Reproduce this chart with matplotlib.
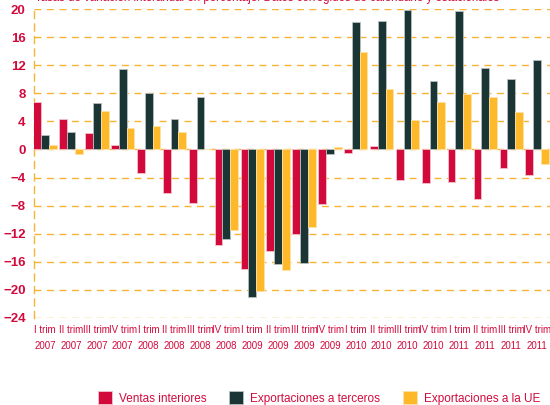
import numpy as np
import matplotlib.pyplot as plt

trimestres = ['I trim', 'II trim', 'III trim', 'IV trim']
anios = ['2007', '2008', '2009', '2010', '2011']
etiquetas = [t + '\n' + a for a in anios for t in trimestres]

ventas_interiores = [6.8, 4.4, 2.3, 0.6, -3.4, -6.2, -7.6, -13.6, -17.0, -14.5,
                     -12.1, -7.8, -0.5, 0.5, -4.4, -4.8, -4.7, -7.0, -2.7, -3.7]
export_terceros = [2.0, 2.5, 6.6, 11.5, 8.1, 4.4, 7.4, -12.8, -21.0, -16.3,
                   -16.2, -0.7, 18.2, 18.3, 19.8, 9.7, 19.7, 11.6, 10.0, 12.8]
export_ue = [0.7, -0.7, 5.5, 3.0, 3.3, 2.5, 0.0, -11.4, -20.2, -17.1,
             -11.0, 0.4, 13.9, 8.6, 4.2, 6.8, 7.9, 7.5, 5.3, -2.0]

rojo = '#D20A3C'
verde = '#1B3535'
amarillo = '#FDB92A'
fuente = ['Liberation Sans', 'DejaVu Sans']

fig = plt.figure(figsize=(5.5, 4.05), dpi=100)
ax = fig.add_axes([34/550, 1 - 318/405, 1 - 34/550, 309/405])

x = np.arange(len(etiquetas))
w = 0.3
ax.bar(x - w, ventas_interiores, w, color=rojo, edgecolor='#f2c2cc', linewidth=0.6, zorder=3)
ax.bar(x, export_terceros, w, color=verde, edgecolor='#b5c0c0', linewidth=0.6, zorder=3)
ax.bar(x + w, export_ue, w, color=amarillo, edgecolor='#fde2a8', linewidth=0.6, zorder=3)

ax.set_xlim(-0.43, 19.5)
ax.set_ylim(-24, 20)
ax.set_yticks(np.arange(-24, 21, 4))
ax.grid(axis='y', color='#F5B533', linestyle=(0, (5, 4)), linewidth=1, zorder=0)
for s in ['top', 'right', 'bottom']:
    ax.spines[s].set_visible(False)
ax.spines['left'].set_color('#F5B533')
ax.spines['left'].set_linestyle((0, (5, 4)))
ax.spines['left'].set_linewidth(1)
ax.tick_params(axis='both', length=0)
ax.tick_params(axis='y', pad=6, labelcolor=rojo)
for lab in ax.get_yticklabels():
    lab.set_fontweight('bold')
    lab.set_fontsize(9.5)
    lab.set_family(fuente)
ax.set_xticks(x)
ax.set_xticklabels(etiquetas, color=rojo, fontsize=7, family=fuente, linespacing=1.75)
ax.tick_params(axis='x', pad=5)

fig.text(35/550, 1.0 + 2/405, 'Tasas de variación interanual en porcentaje. Datos corregidos de calendario y estacionales',
         color=rojo, fontsize=8.3, va='center', ha='left', family=fuente)

fig.legend(['Ventas interiores', 'Exportaciones a terceros', 'Exportaciones a la UE'],
           loc='center', bbox_to_anchor=(0.58, 1 - 398/405), ncol=3, frameon=False,
           handlelength=1.2, handleheight=1.2, columnspacing=1.9, handletextpad=0.6,
           prop={'family': fuente, 'size': 8.5}, labelcolor=rojo)

fig.savefig('out.png', dpi=100)
